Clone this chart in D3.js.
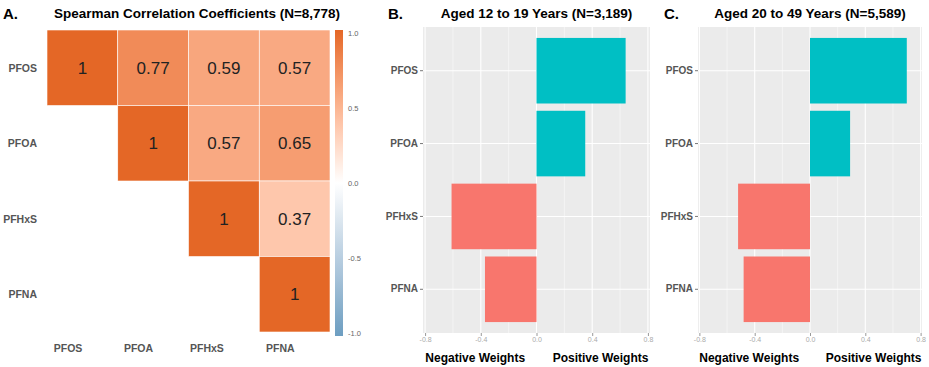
<!DOCTYPE html>
<html>
<head>
<meta charset="utf-8">
<script src="https://cdn.jsdelivr.net/npm/d3@7"></script>
<style>
  body { margin: 0; background: #fff; }
  text { font-family: "Liberation Sans", Arial, sans-serif; }
</style>
</head>
<body>
<div id="container"></div>
<script>
const width = 929;
const height = 367;

const chemicals = ['PFOS', 'PFOA', 'PFHxS', 'PFNA'];
// upper triangle of the correlation matrix, null = not drawn
const corrPFOS = [1, 0.77, 0.59, 0.57];
const corrPFOA = [null, 1, 0.57, 0.65];
const corrPFHxS = [null, null, 1, 0.37];
const corrPFNA = [null, null, null, 1];
const colorbarTicks = [1.0, 0.5, 0.0, -0.5, -1.0];

const weightsTeen = [0.64, 0.35, -0.61, -0.37];
const weightsAdult = [0.70, 0.29, -0.52, -0.48];
const weightTicks = [-0.8, -0.4, 0.0, 0.4, 0.8];
const weightMinor = [-0.6, -0.2, 0.2, 0.6];

// plain hyphen instead of d3's unicode minus
const fmt1 = d => d.toFixed(1);

const svg = d3.select('#container')
    .append('svg')
    .attr('width', width)
    .attr('height', height);

// ---- Panel A: correlation heatmap
const corrRows = [corrPFOS, corrPFOA, corrPFHxS, corrPFNA];
const cells = [];
corrRows.forEach((row, i) => row.forEach((v, j) => {
    if (v !== null) cells.push({row: chemicals[i], col: chemicals[j], value: v});
}));

const colorScale = d3.scaleLinear()
    .domain([-1, 0, 1])
    .range(['#6D9EC1', '#ffffff', '#E46726'])
    .interpolate(d3.interpolateLab);

const xA = d3.scaleBand().domain(chemicals).range([47, 330]);
const yA = d3.scaleBand().domain(chemicals).range([30, 332]);

svg.append('text')
    .attr('x', 3).attr('y', 19)
    .attr('font-size', 15).attr('font-weight', 'bold')
    .text('A.');
svg.append('text')
    .attr('x', 197).attr('y', 18)
    .attr('text-anchor', 'middle')
    .attr('font-size', 13.5).attr('font-weight', 'bold')
    .text('Spearman Correlation Coefficients (N=8,778)');

svg.selectAll('rect.cell')
    .data(cells)
    .enter()
    .append('rect')
    .attr('class', 'cell')
    .attr('x', d => xA(d.col))
    .attr('y', d => yA(d.row))
    .attr('width', xA.bandwidth())
    .attr('height', yA.bandwidth())
    .attr('fill', d => colorScale(d.value))
    .attr('stroke', '#fff')
    .attr('stroke-width', 0.6);

svg.selectAll('text.cellLabel')
    .data(cells)
    .enter()
    .append('text')
    .attr('class', 'cellLabel')
    .attr('x', d => xA(d.col) + xA.bandwidth() / 2)
    .attr('y', d => yA(d.row) + yA.bandwidth() / 2 + 6)
    .attr('text-anchor', 'middle')
    .attr('font-size', 17)
    .attr('fill', '#222')
    .text(d => d.value);

// row and column labels
svg.selectAll('text.rowLabel')
    .data(chemicals)
    .enter()
    .append('text')
    .attr('class', 'rowLabel')
    .attr('x', 37)
    .attr('y', d => yA(d) + yA.bandwidth() / 2 + 4)
    .attr('text-anchor', 'end')
    .attr('font-size', 10.5).attr('font-weight', 'bold')
    .attr('fill', '#555')
    .text(d => d);

svg.selectAll('text.colLabel')
    .data(chemicals)
    .enter()
    .append('text')
    .attr('class', 'colLabel')
    .attr('x', d => xA(d) + xA.bandwidth() / 2)
    .attr('y', 352)
    .attr('text-anchor', 'end')
    .attr('font-size', 10.5).attr('font-weight', 'bold')
    .attr('fill', '#555')
    .text(d => d);

// colour bar
const barScale = d3.scaleLinear().domain([-1, 1]).range([333, 33]);
const grad = svg.append('defs').append('linearGradient')
    .attr('id', 'corrGrad')
    .attr('x1', 0).attr('y1', 1).attr('x2', 0).attr('y2', 0);
d3.range(-1, 1.001, 0.1).forEach(v => {
    grad.append('stop')
        .attr('offset', (v + 1) / 2)
        .attr('stop-color', colorScale(v));
});
svg.append('rect')
    .attr('x', 335).attr('y', barScale(1) - 3)
    .attr('width', 8).attr('height', barScale(-1) - barScale(1) + 6)
    .attr('fill', 'url(#corrGrad)');
svg.selectAll('text.barLabel')
    .data(colorbarTicks)
    .enter()
    .append('text')
    .attr('class', 'barLabel')
    .attr('x', 348)
    .attr('y', d => barScale(d) + 2.5)
    .attr('font-size', 7.5)
    .attr('fill', '#666')
    .text(fmt1);

// ---- Panels B and C: weight bars
function drawWeights(weights, left, right, domainMax, letter, letterX, title) {
    const top = 27, bottom = 333;
    const x = d3.scaleLinear().domain([-domainMax, domainMax]).range([left, right]);
    const y = d3.scaleBand().domain(chemicals).range([top, bottom])
        .paddingInner(0.1).paddingOuter(0.15);
    const g = svg.append('g');

    g.append('rect')
        .attr('x', left).attr('y', top)
        .attr('width', right - left).attr('height', bottom - top)
        .attr('fill', '#EBEBEB');

    g.selectAll('line.minor')
        .data(weightMinor)
        .enter()
        .append('line')
        .attr('x1', d => x(d)).attr('x2', d => x(d))
        .attr('y1', top).attr('y2', bottom)
        .attr('stroke', '#fff').attr('stroke-width', 0.5);
    g.selectAll('line.major')
        .data(weightTicks)
        .enter()
        .append('line')
        .attr('x1', d => x(d)).attr('x2', d => x(d))
        .attr('y1', top).attr('y2', bottom)
        .attr('stroke', '#fff').attr('stroke-width', 1.1);
    g.selectAll('line.hgrid')
        .data(chemicals)
        .enter()
        .append('line')
        .attr('x1', left).attr('x2', right)
        .attr('y1', d => y(d) + y.bandwidth() / 2)
        .attr('y2', d => y(d) + y.bandwidth() / 2)
        .attr('stroke', '#fff').attr('stroke-width', 1.1);

    g.selectAll('rect.bar')
        .data(weights)
        .enter()
        .append('rect')
        .attr('class', 'bar')
        .attr('x', d => x(Math.min(0, d)))
        .attr('y', (d, i) => y(chemicals[i]))
        .attr('width', d => Math.abs(x(d) - x(0)))
        .attr('height', y.bandwidth())
        .attr('fill', d => d > 0 ? '#00BFC4' : '#F8766D');

    // axes
    const yAxis = d3.axisLeft(y).tickSize(3).tickPadding(2);
    const yg = g.append('g').attr('transform', 'translate(' + left + ',0)').call(yAxis);
    yg.select('.domain').remove();
    yg.selectAll('line').attr('stroke', '#777');
    yg.selectAll('text')
        .attr('font-family', '"Liberation Sans", Arial, sans-serif')
        .attr('font-size', 10).attr('font-weight', 'bold').attr('fill', '#555');

    const xAxis = d3.axisBottom(x).tickValues(weightTicks).tickSize(3).tickPadding(1)
        .tickFormat(fmt1);
    const xg = g.append('g').attr('transform', 'translate(0,' + bottom + ')').call(xAxis);
    xg.select('.domain').remove();
    xg.selectAll('line').attr('stroke', '#999');
    xg.selectAll('text')
        .attr('font-family', '"Liberation Sans", Arial, sans-serif')
        .attr('font-size', 7).attr('fill', '#aaa');

    g.append('text')
        .attr('x', x(-0.44)).attr('y', 362)
        .attr('text-anchor', 'middle')
        .attr('font-size', 12).attr('font-weight', 'bold')
        .text('Negative Weights');
    g.append('text')
        .attr('x', x(0.46)).attr('y', 362)
        .attr('text-anchor', 'middle')
        .attr('font-size', 12).attr('font-weight', 'bold')
        .text('Positive Weights');

    g.append('text')
        .attr('x', letterX).attr('y', 19)
        .attr('font-size', 15).attr('font-weight', 'bold')
        .text(letter);
    g.append('text')
        .attr('x', x(0)).attr('y', 18)
        .attr('text-anchor', 'middle')
        .attr('font-size', 13.5).attr('font-weight', 'bold')
        .text(title);
}

drawWeights(weightsTeen, 423, 650, 0.815, 'B.', 388, 'Aged 12 to 19 Years (N=3,189)');
drawWeights(weightsAdult, 698, 922, 0.81, 'C.', 664, 'Aged 20 to 49 Years (N=5,589)');
</script>
</body>
</html>
